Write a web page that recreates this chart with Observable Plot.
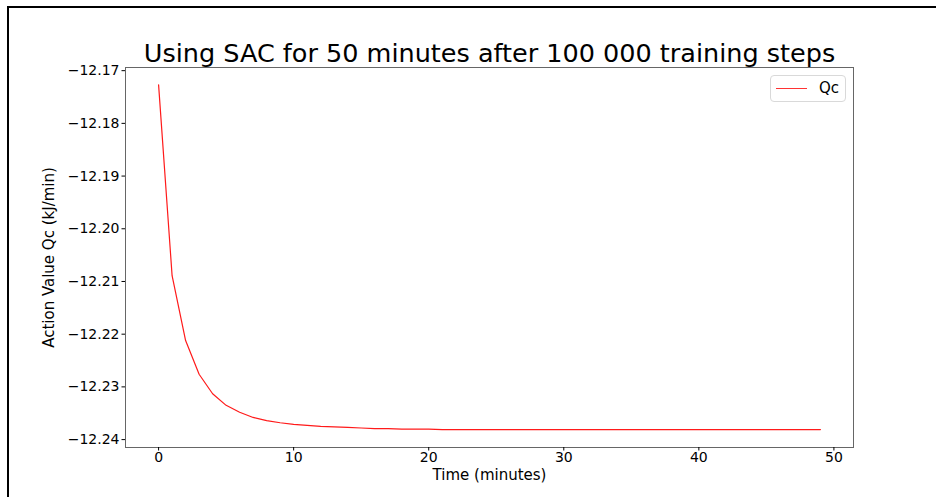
<!DOCTYPE html>
<html><head><meta charset="utf-8">
<script src="https://cdn.jsdelivr.net/npm/d3@7"></script>
<script src="https://cdn.jsdelivr.net/npm/@observablehq/plot@0.6"></script>
<style>
html,body{margin:0;padding:0;background:#fff;}
#wrap{position:relative;width:936px;height:497px;font-family:"DejaVu Sans",sans-serif;overflow:hidden;}
#border{position:absolute;left:7px;top:6px;right:-5px;bottom:-5px;border-top:2px solid #000;border-left:2px solid #000;pointer-events:none;}
#legend{position:absolute;left:770px;top:75px;width:76px;height:27px;border:1px solid #d9d9d9;border-radius:4px;box-sizing:border-box;background:#fff;}
#legend .sw{position:absolute;left:5px;top:12px;width:31px;height:0;border-top:1px solid #ff3333;}
#legend .lb{position:absolute;left:48px;top:3px;font-size:15px;line-height:18px;color:#000;}
</style>
</head><body>
<div id="wrap"><div id="border"></div></div>
<script>
const titleText = "Using SAC for 50 minutes after 100 000 training steps";
const xLabel = "Time (minutes)";
const yLabel = "Action Value Qc (kJ/min)";
const seriesName = "Qc";
const xTicks = [0, 10, 20, 30, 40, 50];
const yTicks = [-12.17, -12.18, -12.19, -12.20, -12.21, -12.22, -12.23, -12.24];
const time = Array.from({length: 50}, (_, i) => i);
const qc = [
  -12.1727, -12.2089, -12.2212, -12.2276, -12.2313, -12.2335, -12.2348, -12.2358, -12.2364, -12.2368,
  -12.2371, -12.2373, -12.2375, -12.2376, -12.2377, -12.2378, -12.2379, -12.2379, -12.2380, -12.2380,
  -12.2380, -12.2381, -12.2381, -12.2381, -12.2381, -12.2381, -12.2381, -12.2381, -12.2381, -12.2381,
  -12.2381, -12.2381, -12.2381, -12.2381, -12.2381, -12.2381, -12.2381, -12.2381, -12.2381, -12.2381,
  -12.2381, -12.2381, -12.2381, -12.2381, -12.2381, -12.2381, -12.2381, -12.2381, -12.2381, -12.2381
];
const data = time.map((t, i) => ({t, q: qc[i]}));

const chart = Plot.plot({
  width: 936,
  height: 497,
  marginLeft: 125,
  marginRight: 83,
  marginTop: 67,
  marginBottom: 50,
  style: {fontFamily: "DejaVu Sans, sans-serif", background: "transparent", color: "#000"},
  x: {domain: [-2.45, 51.45]},
  y: {domain: [-12.2415, -12.1694]},
  marks: [
    Plot.frame({stroke: "#666", strokeWidth: 1}),
    Plot.axisX({ticks: xTicks, tickSize: 3.5, tickPadding: 1, fontSize: 14, label: null, tickFormat: d3.format("d")}),
    Plot.axisY({ticks: yTicks, tickSize: 3.5, tickPadding: 2.5, fontSize: 14, label: null, tickFormat: d3.format(".2f")}),
    Plot.line(data, {x: "t", y: "q", stroke: "#ff1a1a", strokeWidth: 1.2}),
    Plot.text([titleText], {frameAnchor: "top", dy: -5.5, lineAnchor: "bottom", fontSize: 25.5, fill: "#000"}),
    Plot.text([xLabel], {frameAnchor: "bottom", dy: 32, lineAnchor: "bottom", fontSize: 15, fill: "#000"}),
    Plot.text([yLabel], {frameAnchor: "left", dx: -72, rotate: -90, textAnchor: "middle", lineAnchor: "bottom", fontSize: 15, fill: "#000"})
  ]
});
const wrap = document.getElementById("wrap");
wrap.insertBefore(chart, wrap.firstChild);
chart.style.position = "absolute";
chart.style.left = "0";
chart.style.top = "0";
const lg = document.createElement("div");
lg.id = "legend";
lg.innerHTML = '<div class="sw"></div><div class="lb"></div>';
lg.querySelector(".lb").textContent = seriesName;
wrap.appendChild(lg);
</script>
</body></html>
